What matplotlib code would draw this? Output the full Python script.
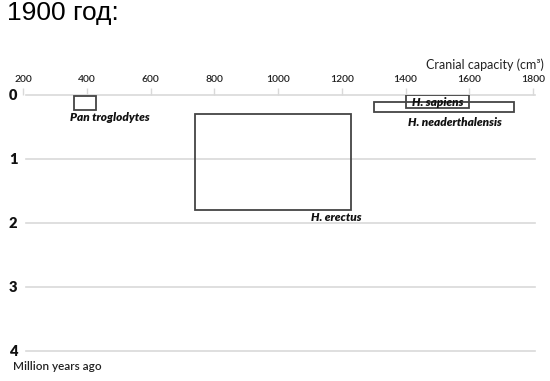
import matplotlib.pyplot as plt
from matplotlib.patches import Rectangle

# data
species = ['Pan troglodytes', 'H. erectus', 'H. sapiens', 'H. neaderthalensis']
cap_low = [360, 740, 1400, 1300]      # cm3
cap_high = [430, 1230, 1600, 1740]
age_low = [0.02, 0.30, 0.0, 0.11]     # million years ago
age_high = [0.23, 1.80, 0.20, 0.26]
x_ticks = [200, 400, 600, 800, 1000, 1200, 1400, 1600, 1800]
y_ticks = [0, 1, 2, 3, 4]

font = 'Lato'
grid_col = '#d9d9d9'
box_col = '#444444'

fig = plt.figure(figsize=(5.5, 3.81), dpi=100)
ax = fig.add_axes([23 / 550, 30 / 381, 510 / 550, 256 / 381])
ax.set_xlim(200, 1800)
ax.set_ylim(4, 0)

for s in ax.spines.values():
    s.set_visible(False)

# horizontal guide lines
for y in y_ticks:
    ax.plot([209, 1807], [y, y], color=grid_col, lw=1.2, clip_on=False, zorder=1)

ax.xaxis.tick_top()
ax.set_xticks(x_ticks)
ax.set_xticklabels([str(v) for v in x_ticks], fontfamily=font, fontsize=7.5,
                   fontweight='semibold', color='#222222')
ax.tick_params(axis='x', direction='out', length=5, width=1, color=grid_col, pad=3)

ax.set_yticks(y_ticks)
ax.set_yticklabels([str(v) for v in y_ticks], fontfamily=font, fontsize=10.5,
                   fontweight='heavy', color='#111111')
ax.tick_params(axis='y', length=0, pad=4)

# species boxes
for lo, hi, a0, a1 in zip(cap_low, cap_high, age_low, age_high):
    ax.add_patch(Rectangle((lo, a0), hi - lo, a1 - a0, fill=False,
                           edgecolor=box_col, lw=1.3, zorder=3))

# labels
label_style = dict(fontfamily=font, fontsize=8.5, fontweight='heavy', fontstyle='italic',
                   color='#111111', va='center', zorder=4)
ax.text(cap_low[0] - 12, age_high[0] + 0.12, species[0], ha='left', **label_style)
ax.text(cap_high[1] + 32, age_high[1] + 0.12, species[1], ha='right', **label_style)
ax.text((cap_low[2] + cap_high[2]) / 2, (age_low[2] + age_high[2]) / 2 + 0.01,
        species[2], ha='center', **label_style)
ax.text((cap_low[3] + cap_high[3]) / 2 + 35, age_high[3] + 0.17, species[3],
        ha='center', **label_style)

fig.text(544 / 550, 1 - 65 / 381, 'Cranial capacity (cm³)', ha='right', va='center',
         fontfamily=font, fontsize=9, color='#222222')
fig.text(13 / 550, 1 - 367 / 381, 'Million years ago', ha='left', va='center',
         fontfamily=font, fontsize=8.5, fontweight='semibold', color='#222222')
fig.text(7 / 550, 1 - 20 / 381, '1900 год:', ha='left', va='baseline',
         fontfamily='Liberation Sans', fontsize=19, color='black')

fig.savefig('out.png', dpi=100)
